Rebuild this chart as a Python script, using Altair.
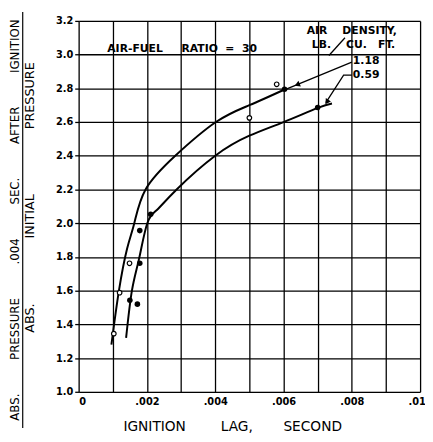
import altair as alt
import pandas as pd

# ---- data ----
upper_x = [0.00096, 0.00118, 0.00142, 0.00163, 0.00196, 0.00283, 0.00402, 0.0050, 0.00605]
upper_y = [1.28, 1.60, 1.85, 2.00, 2.20, 2.40, 2.60, 2.70, 2.795]
lower_x = [0.00139, 0.00156, 0.00177, 0.00201, 0.0023, 0.00287, 0.0040, 0.0050, 0.0060, 0.0070, 0.00742]
lower_y = [1.32, 1.60, 1.79, 2.00, 2.08, 2.20, 2.40, 2.519, 2.60, 2.684, 2.71]

open_x = [0.00103, 0.0012, 0.00149, 0.0050, 0.0058]
open_y = [1.345, 1.588, 1.762, 2.625, 2.824]
filled_x = [0.0015, 0.00172, 0.00179, 0.00179, 0.00211, 0.00603, 0.0070]
filled_y = [1.543, 1.52, 1.762, 1.956, 2.053, 2.795, 2.686]

x_ticks = [0, 0.001, 0.002, 0.003, 0.004, 0.005, 0.006, 0.007, 0.008, 0.009, 0.010]
y_ticks = [1.0, 1.2, 1.4, 1.6, 1.8, 2.0, 2.2, 2.4, 2.6, 2.8, 3.0, 3.2]

# leader lines (data coordinates)
lead_id = ["a", "a", "b", "b", "b", "c", "c"]
lead_x = [0.0080, 0.00608, 0.0080, 0.00776, 0.00724, 0.0078, 0.00733]
lead_y = [2.955, 2.795, 2.878, 2.878, 2.715, 3.10, 2.995]
arrow_x = [0.00640, 0.00727]
arrow_y = [2.822, 2.719]
arrow_angle = [337, 304]

S = "\u00a0"
ann_text = ["AIR-FUEL" + S * 5 + "RATIO" + S * 2 + "=" + S * 2 + "30",
            "AIR" + S * 4 + "DENSITY,",
            "LB." + S * 4 + "CU." + S * 3 + "FT.",
            "1.18", "0.59"]
ann_x = [0.00303, 0.00800, 0.00805, 0.00803, 0.00803]
ann_y = [3.033, 3.142, 3.054, 2.961, 2.877]
ann_align = ["center", "center", "center", "left", "left"]

FONT = "DejaVu Sans"

xs = alt.Scale(domain=[0, 0.010], nice=False, zero=False)
ys = alt.Scale(domain=[1.0, 3.2], nice=False, zero=False)

xaxis = alt.Axis(values=x_ticks, grid=True, gridColor="black", gridWidth=1.3, gridOpacity=1,
                 domain=False, ticks=False, labelPadding=5, labelFont=FONT, labelFontSize=10,
                 labelFontWeight="bold", labelColor="black", title=None, labelOverlap=False,
                 labelExpr="datum.value == 0 ? '0' : (round(datum.value*1000) % 2 == 0 ? replace(format(datum.value, '.3f'), '0.', '.') : '')",
                 labelAlign={"condition": {"test": "datum.value == 0", "value": "left"}, "value": "center"})
yaxis = alt.Axis(values=y_ticks, grid=True, gridColor="black", gridWidth=1.3, gridOpacity=1,
                 domain=False, tickSize=4, tickColor="black", tickWidth=1.3, labelPadding=2,
                 labelFont=FONT, labelFontSize=10, labelFontWeight="bold", labelColor="black",
                 labelOverlap=False, format=".1f", title=None)

X = alt.X("x:Q", scale=xs, axis=xaxis)
Y = alt.Y("y:Q", scale=ys, axis=yaxis)

curves = pd.DataFrame({
    "series": ["1.18"] * len(upper_x) + ["0.59"] * len(lower_x),
    "x": upper_x + lower_x,
    "y": upper_y + lower_y,
    "o": list(range(len(upper_x))) + list(range(len(lower_x))),
})

base_lines = alt.Chart(curves).mark_line(color="black", strokeWidth=2, interpolate="natural").encode(
    x=X, y=Y, detail="series:N", order="o:Q")

open_pts = alt.Chart(pd.DataFrame({"x": open_x, "y": open_y})).mark_point(
    shape="circle", filled=True, fill="white", stroke="black", strokeWidth=1.2, size=22, opacity=1
).encode(x=X, y=Y)

filled_pts = alt.Chart(pd.DataFrame({"x": filled_x, "y": filled_y})).mark_circle(
    color="black", size=32, opacity=1
).encode(x=X, y=Y)

leaders = alt.Chart(pd.DataFrame({"id": lead_id, "x": lead_x, "y": lead_y,
                                  "o": list(range(len(lead_x)))})).mark_line(
    color="black", strokeWidth=1.3
).encode(x=X, y=Y, detail="id:N", order="o:Q")

arrows = alt.Chart(pd.DataFrame({"x": arrow_x, "y": arrow_y, "a": arrow_angle})).mark_point(
    shape="triangle-left", filled=True, color="black", size=40, opacity=1
).encode(x=X, y=Y, angle=alt.Angle("a:Q", scale=None))

ann_layers = []
for t, x, y, a in zip(ann_text, ann_x, ann_y, ann_align):
    ann_layers.append(
        alt.Chart(pd.DataFrame({"x": [x], "y": [y], "t": [t]})).mark_text(
            font=FONT, fontSize=11, fontWeight="bold", color="black", align=a, baseline="middle"
        ).encode(x=X, y=Y, text="t:N")
    )

one = pd.DataFrame({"k": [0]})
G = S * 9
num_title = alt.Chart(one).mark_text(
    font=FONT, fontSize=12, color="black", angle=270, align="center", baseline="middle"
).encode(x=alt.value(-65), y=alt.value(203),
         text=alt.value("ABS." + G + "PRESSURE" + G + ".004" + G + "SEC." + G + "AFTER" + G + "IGNITION"))
den_title = alt.Chart(one).mark_text(
    font=FONT, fontSize=13, color="black", angle=270, align="center", baseline="middle"
).encode(x=alt.value(-49), y=alt.value(180),
         text=alt.value("ABS." + S * 16 + "INITIAL" + S * 16 + "PRESSURE"))
bar = alt.Chart(one).mark_rule(color="black", strokeWidth=1.2).encode(
    x=alt.value(-57), y=alt.value(-9), y2=alt.value(415))
x_title = alt.Chart(one).mark_text(
    font=FONT, fontSize=14, color="black", align="center", baseline="middle"
).encode(x=alt.value(157), y=alt.value(414),
         text=alt.value("IGNITION" + S * 8 + "LAG," + S * 7 + "SECOND"))

chart = alt.layer(base_lines, leaders, arrows, open_pts, filled_pts, *ann_layers,
                  num_title, den_title, bar, x_title).properties(
    width=348, height=378,
    autosize=alt.AutoSizeParams(type="none"),
    padding={"left": 72, "top": 9, "right": 5, "bottom": 46},
).configure_view(stroke="black", strokeWidth=2.2).configure(background="white")

chart.save("out.html", embed_options={"renderer": "svg", "actions": False})
